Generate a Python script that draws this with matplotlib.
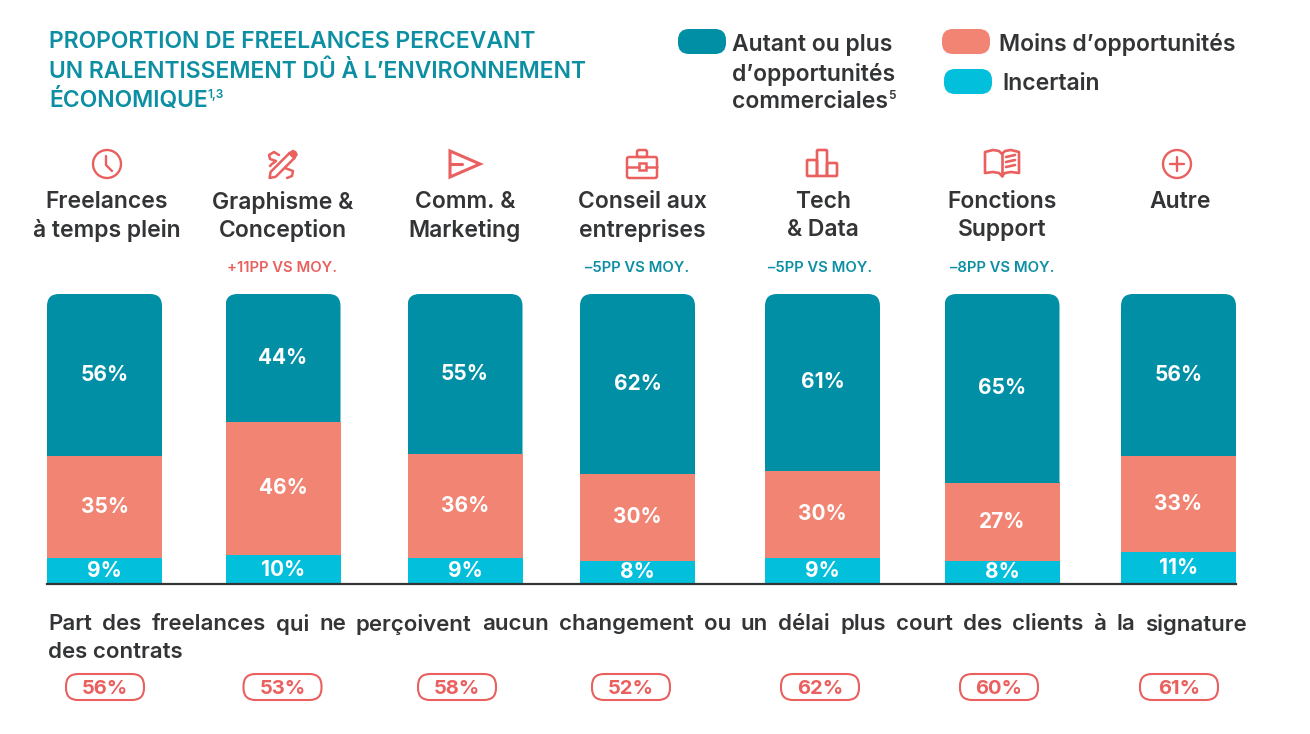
import matplotlib
matplotlib.use("Agg")
import matplotlib.pyplot as plt
from matplotlib.patches import FancyBboxPatch, Circle, Polygon, Rectangle
import numpy as np

W, H = 1310, 734

categories = [["Freelances", "à temps plein"], ["Graphisme &", "Conception"], ["Comm. &", "Marketing"],
              ["Conseil aux", "entreprises"], ["Tech", "& Data"], ["Fonctions", "Support"], ["Autre"]]
autant = [56, 44, 55, 62, 61, 65, 56]
moins = [35, 46, 36, 30, 30, 27, 33]
incertain = [9, 10, 9, 8, 9, 8, 11]
delai = [56, 53, 58, 52, 62, 60, 61]
ecarts = [None, "+11PP VS MOY.", None, "–5PP VS MOY.", "–5PP VS MOY.", "–8PP VS MOY.", None]

# columns are not evenly spaced on the page
centers = [104.5, 283, 465, 637.5, 822.5, 1002, 1178.5]
head_x = [106.5, 282.5, 465, 642, 823, 1002, 1180.5]
ecart_x = [0, 282.5, 0, 637, 820, 1002, 0]
pill_x = [105, 282.5, 457, 631, 820, 999, 1179]
icon_x = [107, 283, 465, 642, 822, 1002, 1177]
bar_w = 115

TEAL = "#018fa5"
SALMON = "#f18473"
CYAN = "#02bfdc"
CORAL = "#e9605f"
DARK = "#333436"
TITLE = "#0d8fa3"

plt.rcParams["font.family"] = ["Inter", "DejaVu Sans"]

fig = plt.figure(figsize=(W / 100, H / 100), dpi=100, facecolor="white")

# full page axes in pixels, y pointing down
pg = fig.add_axes([0, 0, 1, 1])
pg.set_xlim(0, W)
pg.set_ylim(H, 0)
pg.axis("off")

# bars
top, base = 294, 584
left, right = 47, 1236
ax = fig.add_axes([left / W, 1 - base / H, (right - left) / W, (base - top) / H])
ax.set_xlim(left, right)
ax.set_ylim(0, 100)
ax.patch.set_alpha(0)
for s in ["top", "left", "right"]:
    ax.spines[s].set_visible(False)
ax.spines["bottom"].set_color(DARK)
ax.spines["bottom"].set_linewidth(1.6)
ax.set_xticks([])
ax.set_yticks([])

b1 = ax.bar(centers, incertain, width=bar_w, color=CYAN)
b2 = ax.bar(centers, moins, width=bar_w, bottom=incertain, color=SALMON)
b3 = ax.bar(centers, autant, width=bar_w, bottom=np.add(incertain, moins), color=TEAL)

# round the top corners only, the clip shape runs past the baseline
for i, r in enumerate(b3):
    c = centers[i]
    clip = FancyBboxPatch((c - bar_w / 2 + 12, top + 12), bar_w - 24, 320, boxstyle="round,pad=12,rounding_size=12",
                          transform=pg.transData)
    r.set_clip_path(clip)

for i, c in enumerate(centers):
    y0 = 0
    for vals in [incertain, moins, autant]:
        ax.text(c, y0 + vals[i] / 2, f"{vals[i]}%", ha="center", va="center", color="white",
                fontsize=15, fontweight="bold")
        y0 += vals[i]

# column headers
for i, c in enumerate(head_x):
    for j, line in enumerate(categories[i]):
        pg.text(c, 202 + j * 28, line, ha="center", va="center", color=DARK,
                fontsize=16.5, fontweight="semibold")
    if ecarts[i]:
        col = CORAL if ecarts[i].startswith("+") else TITLE
        pg.text(ecart_x[i], 268, ecarts[i], ha="center", va="center", color=col, fontsize=10.7, fontweight="semibold")


def stroke(xs, ys, lw=2.0):
    pg.plot(xs, ys, color=CORAL, lw=lw, solid_capstyle="round", solid_joinstyle="round")


# icons, one per column
def icon_clock(x, y):
    pg.add_patch(Circle((x, y), 14, fill=False, ec=CORAL, lw=1.7))
    stroke([x - 1, x - 1, x + 5], [y - 8, y + 1, y + 7], 1.7)


def icon_pen(x, y):
    u = np.array([1, -1]) / np.sqrt(2)
    v = np.array([1, 1]) / np.sqrt(2)
    c = np.array([x, y + 0.5])
    pts = [c - 19 * u, c - 14 * u - 3.5 * v, c + 13 * u - 3.5 * v, c + 13 * u + 3.5 * v, c - 14 * u + 3.5 * v]
    pg.add_patch(Polygon(pts, closed=True, fill=False, ec=CORAL, lw=1.8, joinstyle="round"))
    head = [c + 12 * u - 4 * v, c + 17 * u - 3 * v, c + 18 * u, c + 17 * u + 3 * v, c + 12 * u + 4 * v]
    pg.add_patch(Polygon(head, closed=True, fc=CORAL, ec=CORAL, lw=1, joinstyle="round"))
    stroke([x - 4, x - 9, x - 14, x - 13, x - 7, x - 11, x - 13],
           [y - 9, y - 12, y - 9, y - 5, y - 3, y + 0, y + 2], 1.8)
    stroke([x + 2, x + 10, x + 9, x + 4], [y + 4, y + 7, y + 12, y + 14], 1.8)


def icon_plane(x, y):
    pts = [(x - 15, y - 13), (x + 15, y), (x - 15, y + 13)]
    pg.add_patch(Polygon(pts, closed=True, fill=False, ec=CORAL, lw=2.2, joinstyle="miter"))
    stroke([x - 15, x - 3], [y, y], 2.2)


def icon_case(x, y):
    pg.add_patch(FancyBboxPatch((x - 15, y - 7), 30, 21, boxstyle="round,pad=0,rounding_size=2", fill=False, ec=CORAL, lw=1.8))
    pg.add_patch(FancyBboxPatch((x - 5, y - 14), 10, 7, boxstyle="round,pad=0,rounding_size=2", fill=False, ec=CORAL, lw=1.8))
    stroke([x - 15, x - 3.5], [y + 2.5, y + 2.5], 1.8)
    stroke([x + 3.5, x + 15], [y + 2.5, y + 2.5], 1.8)
    pg.add_patch(Rectangle((x - 3.5, y - 1), 7, 7, fill=False, ec=CORAL, lw=1.8))


def icon_bars(x, y):
    # three joined columns, the middle one tallest
    for dx, h in [(-15, 16), (-5, 26), (5, 13)]:
        pg.add_patch(FancyBboxPatch((x + dx, y + 12 - h), 10, h, boxstyle="round,pad=0,rounding_size=1",
                                    fill=False, ec=CORAL, lw=1.9))


def icon_book(x, y):
    for sgn in [-1, 1]:
        xs = x + sgn * np.array([0, 3, 9, 17, 17, 9, 3, 0])
        ys = y + np.array([-10, -13, -14, -12, 9, 8, 9, 12])
        stroke(xs, ys, 1.9)
    stroke([x, x], [y - 10, y + 12], 1.9)
    for dy in [-8, -3, 2]:
        stroke([x + 4, x + 13], [y + dy + 1, y + dy - 1], 1.9)


def icon_plus(x, y):
    pg.add_patch(Circle((x, y), 14, fill=False, ec=CORAL, lw=1.7))
    stroke([x - 7, x + 7], [y, y], 1.7)
    stroke([x, x], [y - 7, y + 7], 1.7)


for fn, ix in zip([icon_clock, icon_pen, icon_plane, icon_case, icon_bars, icon_book, icon_plus], icon_x):
    fn(ix, 164)

# title
t = None
for j, line in enumerate(["PROPORTION DE FREELANCES PERCEVANT", "UN RALENTISSEMENT DÛ À L’ENVIRONNEMENT", "ÉCONOMIQUE"]):
    t = pg.text(49, 42.5 + j * 29, line, ha="left", va="center", color=TITLE, fontsize=16.5, fontweight="semibold")
pg.annotate("1,3", xy=(1, 0.75), xycoords=t, xytext=(0, 0), textcoords="offset points", color=TITLE,
            fontsize=8.5, fontweight="semibold", va="center", ha="left")


# legend
def swatch(x, y, col):
    pg.add_patch(FancyBboxPatch((x + 12, y + 12), 24, 1, boxstyle="round,pad=12,rounding_size=11", fc=col, ec="none"))


swatch(678, 29, TEAL)
swatch(942, 29, SALMON)
swatch(944, 69, CYAN)
lab = None
for j, line in enumerate(["Autant ou plus", "d’opportunités", "commerciales"]):
    lab = pg.text(732, 45.5 + j * 28.5, line, ha="left", va="center", color=DARK, fontsize=16.5, fontweight="semibold")
pg.annotate("5", xy=(1, 0.8), xycoords=lab, color=DARK, fontsize=8.5, fontweight="semibold", va="center", ha="left")
pg.text(999, 44.5, "Moins d’opportunités", ha="left", va="center", color=DARK, fontsize=16.5, fontweight="semibold")
pg.text(1002, 83.5, "Incertain", ha="left", va="center", color=DARK, fontsize=16.5, fontweight="semibold")

# bottom note, first line justified between the margins
note_words = "Part des freelances qui ne perçoivent aucun changement ou un délai plus court des clients à la signature".split()
fig.canvas.draw()
rend = fig.canvas.get_renderer()
items = [pg.text(0, 624.5, w, ha="left", va="center", color=DARK, fontsize=16, fontweight="semibold") for w in note_words]
widths = [it.get_window_extent(rend).width for it in items]
gap = (1247 - 48 - sum(widths)) / (len(items) - 1)
x = 48
for it, wd in zip(items, widths):
    it.set_x(x)
    x += wd + gap
pg.text(48, 652.5, "des contrats", ha="left", va="center", color=DARK, fontsize=16, fontweight="semibold")

# pills with the delay share
for c, v in zip(pill_x, delai):
    pg.add_patch(FancyBboxPatch((c - 39 + 12, 674 + 12), 78 - 24, 2, boxstyle="round,pad=12,rounding_size=12",
                                fill=False, ec=CORAL, lw=1.5))
    pg.text(c, 688.5, f"{v}%", ha="center", va="center", color=CORAL, fontsize=14.5, fontweight="bold")

fig.savefig("out.png", dpi=100, facecolor="white")
